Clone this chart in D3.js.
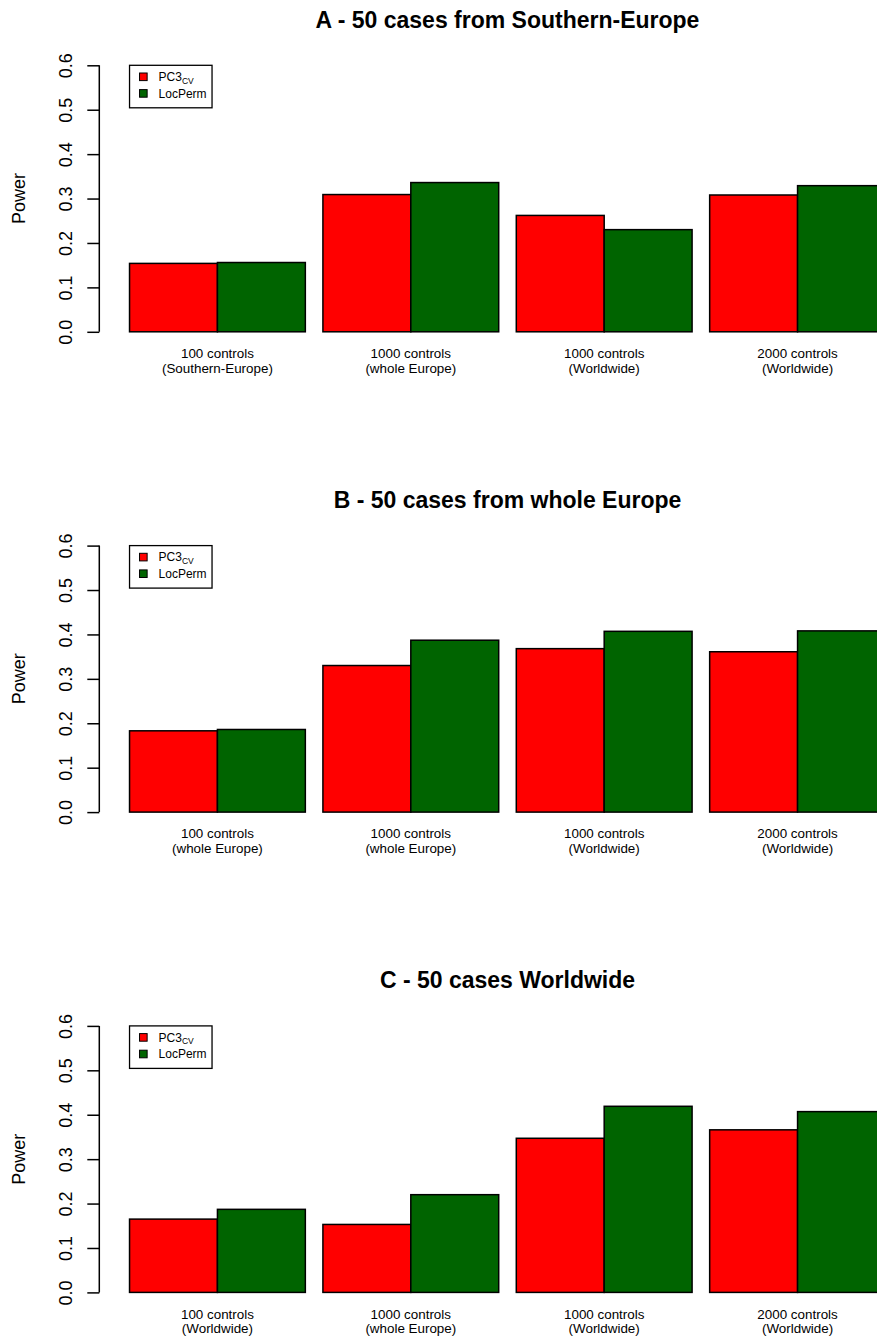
<!DOCTYPE html>
<html>
<head>
<meta charset="utf-8">
<script src="https://cdn.jsdelivr.net/npm/d3@7"></script>
<style>
  html, body { margin: 0; padding: 0; background: #fff; overflow: hidden; }
  svg { display: block; font-family: "Liberation Sans", Arial, Helvetica, sans-serif; }
</style>
</head>
<body>
<svg id="chart" width="877" height="1342"></svg>
<script>
// Power of the two tests for three case samples, by control panel
const panelTitles = [
  "A - 50 cases from Southern-Europe",
  "B - 50 cases from whole Europe",
  "C - 50 cases Worldwide"
];
const seriesNames = ["PC3", "LocPerm"];
const seriesColors = ["#ff0000", "#006400"];

const categoriesA = [["100 controls", "(Southern-Europe)"], ["1000 controls", "(whole Europe)"], ["1000 controls", "(Worldwide)"], ["2000 controls", "(Worldwide)"]];
const categoriesB = [["100 controls", "(whole Europe)"], ["1000 controls", "(whole Europe)"], ["1000 controls", "(Worldwide)"], ["2000 controls", "(Worldwide)"]];
const categoriesC = [["100 controls", "(Worldwide)"], ["1000 controls", "(whole Europe)"], ["1000 controls", "(Worldwide)"], ["2000 controls", "(Worldwide)"]];

const pc3A = [0.154, 0.309, 0.262, 0.308];
const locPermA = [0.156, 0.336, 0.230, 0.329];
const pc3B = [0.183, 0.330, 0.368, 0.361];
const locPermB = [0.186, 0.387, 0.407, 0.408];
const pc3C = [0.165, 0.153, 0.347, 0.366];
const locPermC = [0.187, 0.220, 0.419, 0.407];

const yTicks = [0.0, 0.1, 0.2, 0.3, 0.4, 0.5, 0.6];

const panels = [
  { title: panelTitles[0], cats: categoriesA, series: [pc3A, locPermA] },
  { title: panelTitles[1], cats: categoriesB, series: [pc3B, locPermB] },
  { title: panelTitles[2], cats: categoriesC, series: [pc3C, locPermC] }
];

const svg = d3.select("#chart");

// Bar units: each bar is one unit wide, groups separated by 0.2 units
const groupSpace = 0.2;
const nSeries = 2;
const barLeft = (g, s) => groupSpace + g * (nSeries + groupSpace) + s;
const xMin = groupSpace, xMax = 4 * (nSeries + groupSpace);
const pad = (xMax - xMin) * 0.04;
const plotLeft = 99.3, plotRight = 915.7;
const x = d3.scaleLinear().domain([xMin - pad, xMax + pad]).range([plotLeft, plotRight]);

const panelOffset = 480.3;
const yTop0 = 65.3, yBottom0 = 331.8;

panels.forEach((p, i) => {
  const off = i * panelOffset;
  const y = d3.scaleLinear().domain([0, 0.6]).range([yBottom0 + off, yTop0 + off]);
  const g = svg.append("g");

  // title
  g.append("text")
    .attr("x", (plotLeft + plotRight) / 2)
    .attr("y", y(0.6) - 37.6)
    .attr("text-anchor", "middle")
    .attr("font-weight", "bold")
    .attr("font-size", 23)
    .text(p.title);

  // bars
  p.series.forEach((vals, s) => {
    g.selectAll(null).data(vals).enter().append("rect")
      .attr("x", (d, k) => x(barLeft(k, s)))
      .attr("width", (d, k) => x(barLeft(k, s) + 1) - x(barLeft(k, s)))
      .attr("y", d => y(d))
      .attr("height", d => y(0) - y(d))
      .attr("fill", seriesColors[s])
      .attr("stroke", "#000")
      .attr("stroke-width", 1.5);
  });

  // y axis
  const axis = d3.axisLeft(y).tickValues(yTicks).tickFormat(d3.format(".1f")).tickSize(12).tickSizeOuter(0);
  const ag = g.append("g").attr("transform", `translate(${plotLeft},0)`).call(axis);
  ag.select(".domain").attr("stroke", "#000").attr("stroke-width", 1.5).attr("d", `M0,${y(0)}V${y(0.6)}`);
  ag.selectAll(".tick line").attr("stroke", "#000").attr("stroke-width", 1.5);
  ag.selectAll(".tick text")
    .attr("font-size", 18)
    .attr("font-family", "Liberation Sans, Arial, sans-serif")
    .attr("fill", "#000")
    .attr("x", null).attr("dy", null)
    .attr("text-anchor", "middle")
    .attr("transform", "translate(-27.6,0) rotate(-90)");

  // y label
  g.append("text")
    .attr("transform", `translate(25,${(y(0) + y(0.6)) / 2}) rotate(-90)`)
    .attr("text-anchor", "middle")
    .attr("font-size", 18)
    .text("Power");

  // category labels
  p.cats.forEach((lines, k) => {
    const cx = x(barLeft(k, 0) + 1);
    lines.forEach((line, j) => {
      g.append("text")
        .attr("x", cx)
        .attr("y", y(0) + 26.3 + j * 14.5)
        .attr("text-anchor", "middle")
        .attr("font-size", 13.4)
        .text(line);
    });
  });

  // legend
  const lx = x(barLeft(0, 0)), ly = y(0.6);
  const lg = g.append("g");
  lg.append("rect")
    .attr("x", lx).attr("y", ly)
    .attr("width", 82.5).attr("height", 42.5)
    .attr("fill", "#fff").attr("stroke", "#000").attr("stroke-width", 1.3);
  seriesNames.forEach((name, s) => {
    const rowY = ly + 11.5 + s * 16.6;
    lg.append("rect")
      .attr("x", lx + 10).attr("y", rowY - 3.8)
      .attr("width", 7.6).attr("height", 7.6)
      .attr("fill", seriesColors[s]).attr("stroke", "#000").attr("stroke-width", 1);
    const t = lg.append("text")
      .attr("x", lx + 29).attr("y", rowY + 4.2)
      .attr("font-size", 12);
    t.append("tspan").text(name);
    if (s === 0) {
      t.append("tspan").attr("font-size", 8.5).attr("dy", 2.6).text("CV");
    }
  });
});
</script>
</body>
</html>
